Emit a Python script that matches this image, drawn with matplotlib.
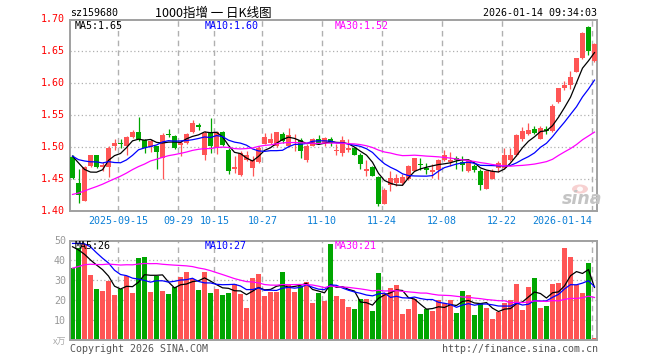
import numpy as np
import matplotlib
matplotlib.use('Agg')
import matplotlib.pyplot as plt
from matplotlib.patches import Ellipse
import matplotlib.transforms as mtransforms

# ---------------- data ----------------
tick_labels = ['2025-09-15', '09-29', '10-15', '10-27', '11-10', '11-24', '12-08', '12-22', '2026-01-14']
tick_index = [8, 18, 24, 32, 42, 52, 62, 72, 87]

opens = [1.484, 1.444, 1.416, 1.470, 1.487, 1.468, 1.469, 1.501, 1.506, 1.501,
         1.515, 1.524, 1.511, 1.500, 1.501, 1.483, 1.521, 1.517, 1.503, 1.507,
         1.523, 1.535, 1.488, 1.522, 1.499, 1.523, 1.496, 1.466, 1.456, 1.480,
         1.467, 1.476, 1.505, 1.507, 1.501, 1.521, 1.501, 1.504, 1.511, 1.480,
         1.502, 1.512, 1.507, 1.513, 1.494, 1.491, 1.495, 1.499, 1.488, 1.463,
         1.469, 1.453, 1.411, 1.441, 1.444, 1.444, 1.449, 1.463, 1.474, 1.467,
         1.461, 1.464, 1.480, 1.477, 1.482, 1.477, 1.462, 1.470, 1.463, 1.434,
         1.450, 1.467, 1.467, 1.480, 1.488, 1.512, 1.520, 1.528, 1.513, 1.528,
         1.525, 1.570, 1.592, 1.598, 1.617, 1.640, 1.689, 1.635]
closes = [1.452, 1.425, 1.469, 1.487, 1.469, 1.471, 1.499, 1.506, 1.504, 1.515,
          1.524, 1.512, 1.498, 1.510, 1.492, 1.519, 1.519, 1.499, 1.507, 1.520,
          1.538, 1.531, 1.522, 1.501, 1.523, 1.503, 1.463, 1.468, 1.491, 1.488,
          1.480, 1.499, 1.515, 1.512, 1.523, 1.509, 1.518, 1.505, 1.493, 1.502,
          1.513, 1.507, 1.514, 1.507, 1.495, 1.511, 1.498, 1.488, 1.474, 1.465,
          1.455, 1.411, 1.432, 1.452, 1.451, 1.453, 1.470, 1.482, 1.472, 1.464,
          1.464, 1.480, 1.488, 1.480, 1.479, 1.472, 1.480, 1.464, 1.441, 1.462,
          1.462, 1.475, 1.487, 1.488, 1.519, 1.525, 1.526, 1.522, 1.529, 1.525,
          1.565, 1.592, 1.598, 1.610, 1.639, 1.679, 1.650, 1.662]
highs = [1.487, 1.465, 1.470, 1.488, 1.488, 1.476, 1.501, 1.513, 1.512, 1.517,
         1.527, 1.547, 1.512, 1.513, 1.502, 1.522, 1.528, 1.519, 1.511, 1.522,
         1.542, 1.538, 1.525, 1.545, 1.525, 1.525, 1.499, 1.486, 1.493, 1.493,
         1.486, 1.501, 1.522, 1.522, 1.524, 1.524, 1.529, 1.520, 1.514, 1.504,
         1.514, 1.519, 1.516, 1.515, 1.504, 1.517, 1.512, 1.500, 1.491, 1.480,
         1.470, 1.454, 1.436, 1.462, 1.457, 1.457, 1.471, 1.483, 1.482, 1.475,
         1.473, 1.481, 1.495, 1.492, 1.486, 1.486, 1.481, 1.473, 1.465, 1.464,
         1.465, 1.478, 1.499, 1.499, 1.520, 1.532, 1.538, 1.533, 1.533, 1.533,
         1.567, 1.593, 1.603, 1.619, 1.640, 1.680, 1.690, 1.663]
lows = [1.449, 1.412, 1.415, 1.469, 1.467, 1.463, 1.453, 1.496, 1.499, 1.488,
        1.514, 1.509, 1.491, 1.492, 1.465, 1.449, 1.515, 1.497, 1.486, 1.505,
        1.522, 1.527, 1.479, 1.491, 1.489, 1.502, 1.457, 1.459, 1.454, 1.478,
        1.454, 1.475, 1.504, 1.504, 1.500, 1.507, 1.500, 1.493, 1.483, 1.476,
        1.501, 1.504, 1.501, 1.501, 1.488, 1.486, 1.492, 1.487, 1.465, 1.455,
        1.454, 1.407, 1.410, 1.431, 1.438, 1.441, 1.448, 1.462, 1.464, 1.457,
        1.452, 1.449, 1.478, 1.470, 1.465, 1.463, 1.460, 1.461, 1.432, 1.434,
        1.449, 1.460, 1.466, 1.478, 1.486, 1.510, 1.519, 1.520, 1.512, 1.520,
        1.524, 1.569, 1.589, 1.591, 1.617, 1.638, 1.645, 1.634]
volumes = [36.3, 46, 48, 32.7, 25.5, 24.7, 29.7, 22.7, 25.5, 32.3,
           23.8, 41, 41.5, 24, 32.3, 24.8, 23, 26.8, 31.8, 34.3,
           30.8, 25, 34.2, 23.7, 25.5, 22.7, 23.7, 28.2, 23.2, 16.2,
           31.2, 33.2, 22.2, 24.2, 24.2, 34.2, 27.7, 24.2, 27.2, 29.2,
           18.7, 23.7, 19.7, 48, 22.2, 20.5, 16.7, 15.5, 20.5, 20.5,
           14.5, 33.7, 23.8, 26.2, 27.7, 13, 15.5, 20.5, 13, 15.5,
           14.5, 20, 18.8, 20, 13.5, 24.5, 22.5, 12.5, 18.5, 16,
           10.5, 14, 18.5, 20, 28.2, 15, 26.5, 31, 16, 17,
           28.2, 28.7, 46, 41.5, 27.5, 23.5, 38.5, 1]

# closes / volumes of the 29 sessions before the visible window (estimated from the MA lines)
prior_closes = [1.36, 1.37, 1.38, 1.37, 1.36, 1.37, 1.38, 1.38,
                1.37, 1.36, 1.37, 1.38, 1.365,
                1.41, 1.43, 1.44, 1.449,
                1.45, 1.455, 1.461,
                1.48, 1.49, 1.50,
                1.47, 1.488,
                1.478, 1.520, 1.508, 1.470]
prior_volumes = [22, 20, 26, 30, 25, 22, 30, 33, 28, 25, 29, 33, 27, 31, 35, 30, 33, 37, 40, 42,
                 46, 50, 48, 55, 52, 54, 59, 47, 38]

ma_windows = [5, 10, 30]
ma_colors = ['#000000', '#0000ff', '#ff00ff']

RED = '#ff5555'
GREEN = '#00a600'
GRID = '#b0b0b0'
BORDER = '#a0a0a0'

# ---------------- helpers ----------------
W, H = 660, 360
fig = plt.figure(figsize=(W / 100, H / 100), dpi=100)
fig.patch.set_facecolor('white')


def fx(px):
    return px / W


def fy(py):
    return 1 - py / H


def ftext(px, py, s, **kw):
    fig.text(fx(px), fy(py), s, **kw)


MONO = 'DejaVu Sans Mono'
FS = 7.2

n = len(closes)
idx = np.arange(n)
o = np.array(opens); c = np.array(closes); hi = np.array(highs); lo = np.array(lows)
v = np.array(volumes)
up = c >= o
colors = np.where(up, RED, GREEN)

all_c = np.concatenate([prior_closes, closes])
all_v = np.concatenate([prior_volumes, volumes])


def ma(arr, w):
    s = np.convolve(arr, np.ones(w) / w, mode='valid')
    return s[len(arr) - w + 1 - n:]


left, right = 70, 597
ax = fig.add_axes([fx(left), fy(210.7), fx(right) - fx(left), (210.7 - 19.5) / H])
axv = fig.add_axes([fx(left), fy(340), fx(right) - fx(left), (340 - 240.5) / H])

xlim = (-0.42, 87.42)
grid_x = [i - 0.37 for i in tick_index]

for a in (ax, axv):
    a.set_xlim(*xlim)
    a.set_xticks([])
    a.set_yticks([])
    for sp in a.spines.values():
        sp.set_color(BORDER)
        sp.set_linewidth(1.4)
    for gx in grid_x:
        a.axvline(gx, color=GRID, lw=1.0, ls=(0, (4, 3)), zorder=0)

# ---------------- price panel ----------------
ax.set_ylim(1.40, 1.70)
price_ticks = [1.40, 1.45, 1.50, 1.55, 1.60, 1.65, 1.70]
for t in price_ticks[1:-1]:
    ax.axhline(t, color=GRID, lw=0.9, ls=(0, (1, 2)), zorder=0)

ax.vlines(idx, lo, hi, colors=colors, lw=0.9, zorder=2)
body_h = np.maximum(np.abs(c - o), 0.0012)
ax.bar(idx, body_h, bottom=np.minimum(o, c), width=0.82, color=colors, lw=0, zorder=3)

for w, col in zip(ma_windows, ma_colors):
    ax.plot(idx, ma(all_c, w), color=col, lw=0.9, zorder=4)

for t in price_ticks:
    y = 19.5 + (1.70 - t) / 0.30 * 191.2
    ftext(65, y, f'{t:.2f}', ha='right', va='center', color='#ff0000', family=MONO, fontsize=FS)

ma_last = [ma(all_c, w)[-1] for w in ma_windows]
for xpx, w, col, val in zip([75, 205, 335], ma_windows, ma_colors, ma_last):
    ftext(xpx, 26, f'MA{w}:{val:.2f}', ha='left', va='center', color=col, family=MONO, fontsize=FS)

# date labels
trans = mtransforms.blended_transform_factory(ax.transData, fig.transFigure)
for gx, lab in zip(grid_x, tick_labels):
    ha = 'right' if lab == tick_labels[-1] else 'center'
    xx = gx + 0.05 if ha == 'right' else gx
    ax.text(xx, fy(221), lab, transform=trans, ha=ha, va='center', color='#0a7fd6',
            family=MONO, fontsize=FS, clip_on=False)

# sina watermark
fig.patches.append(Ellipse((fx(580), fy(189)), 16 / W, 9 / H, transform=fig.transFigure,
                           facecolor='#f6c6c6', edgecolor='none', alpha=0.8))
fig.patches.append(Ellipse((fx(580), fy(189)), 6 / W, 5 / H, transform=fig.transFigure,
                           facecolor='white', edgecolor='none', alpha=0.9))
ftext(582, 199, 'sina', ha='center', va='center', color='#c4c4c4', fontsize=12.5,
      fontstyle='italic', fontweight='bold', family='DejaVu Sans')

# ---------------- volume panel ----------------
axv.set_ylim(0, 50)
for t in [10, 20, 30, 40]:
    axv.axhline(t, color=GRID, lw=0.9, ls=(0, (1, 2)), zorder=0)
axv.bar(idx, v, width=0.82, color=colors, lw=0, zorder=2)
for w, col in zip(ma_windows, ma_colors):
    axv.plot(idx, ma(all_v, w), color=col, lw=0.9, zorder=4)

for t in [50, 40, 30, 20, 10]:
    y = 340 - t * 2 + 0.5
    ftext(66, y, f'{t}', ha='right', va='center', color='#999999', family=MONO, fontsize=FS)
ftext(66, 342, 'x万', ha='right', va='center', color='#aaaaaa', fontsize=6.5,
      family=['Noto Sans CJK SC', 'DejaVu Sans'])

vma_last = [ma(all_v, w)[-1] for w in ma_windows]
for xpx, w, col, val in zip([75, 205, 335], ma_windows, ma_colors, vma_last):
    ftext(xpx, 246, f'MA{w}:{val:.0f}', ha='left', va='center', color=col, family=MONO, fontsize=FS,
          zorder=10)

# ---------------- header / footer ----------------
ftext(70, 13.5, 'sz159680', ha='left', va='center', color='#000000', family=MONO, fontsize=FS)
ftext(213, 13, '1000指增 一 日K线图', ha='center', va='center', color='#000000', fontsize=9,
      family=['Noto Sans CJK SC', 'DejaVu Sans'])
ftext(597, 13.5, '2026-01-14 09:34:03', ha='right', va='center', color='#000000', family=MONO, fontsize=FS)

ftext(70, 349, 'Copyright 2026 SINA.COM', ha='left', va='center', color='#555555', family=MONO, fontsize=FS)
ftext(598, 349, 'http://finance.sina.com.cn', ha='right', va='center', color='#555555', family=MONO, fontsize=FS)

fig.savefig('out.png', dpi=100, facecolor='white')
